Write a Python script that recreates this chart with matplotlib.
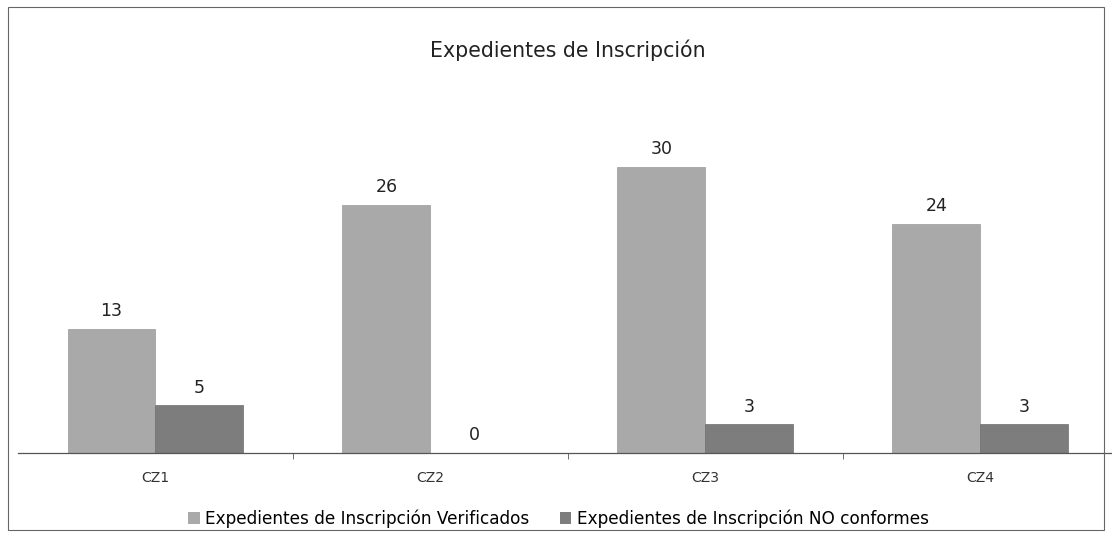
import matplotlib
matplotlib.use("Agg")
import matplotlib.pyplot as plt
import numpy as np
from matplotlib.patches import Rectangle, Patch

categories = ["CZ1", "CZ2", "CZ3", "CZ4"]
verificados = [13, 26, 30, 24]
no_conformes = [5, 0, 3, 3]
series_names = ["Expedientes de Inscripción Verificados",
                "Expedientes de Inscripción NO conformes"]

C_VER = "#a9a9a9"
C_NOC = "#7d7d7d"

fig = plt.figure(figsize=(11.12, 5.37), dpi=100)
ax = fig.add_axes([0.0162, 0.1564, 0.989, 0.676])

x = np.arange(len(categories))
w = 0.32
b1 = ax.bar(x - w / 2, verificados, w, color=C_VER, edgecolor="#9a9a9a", lw=0.5)
b2 = ax.bar(x + w / 2, no_conformes, w, color=C_NOC, edgecolor="#6e6e6e", lw=0.5)

for bars, vals in ((b1, verificados), (b2, no_conformes)):
    for r, v in zip(bars, vals):
        ax.text(r.get_x() + r.get_width() / 2, v + 0.9, str(v),
                ha="center", va="bottom", fontsize=12.5, family="DejaVu Sans",
                color="#222222")

ax.set_xlim(-0.5, 3.5)
ax.set_ylim(0, 38.05)
for s in ("top", "left", "right"):
    ax.spines[s].set_visible(False)
ax.spines["bottom"].set_color("#555555")
ax.spines["bottom"].set_linewidth(0.9)
ax.set_yticks([])
ax.set_xticks(x)
ax.set_xticklabels(categories, fontsize=10, family="DejaVu Sans", color="#333333")
ax.tick_params(axis="x", which="major", length=0, pad=13)
ax.set_xticks([0.5, 1.5, 2.5], minor=True)
ax.tick_params(axis="x", which="minor", length=4, color="#555555", direction="out")

fig.text(0.511, 0.907, "Expedientes de Inscripción", ha="center", va="center",
         fontsize=14.8, family="DejaVu Sans", color="#222222")

handles = [Patch(facecolor=C_VER, edgecolor="none"),
           Patch(facecolor=C_NOC, edgecolor="none")]
fig.legend(handles, series_names, loc="center", bbox_to_anchor=(0.502, 0.034),
           ncol=2, frameon=False, handlelength=0.7, handleheight=0.7,
           handletextpad=0.3, columnspacing=1.8,
           prop={"family": "DejaVu Sans", "size": 12.2})

fig.patches.append(Rectangle((8 / 1112, 7 / 537), 1096 / 1112, 523 / 537,
                             transform=fig.transFigure, fill=False,
                             edgecolor="#666666", lw=0.8))

fig.savefig("out.png", dpi=100)
